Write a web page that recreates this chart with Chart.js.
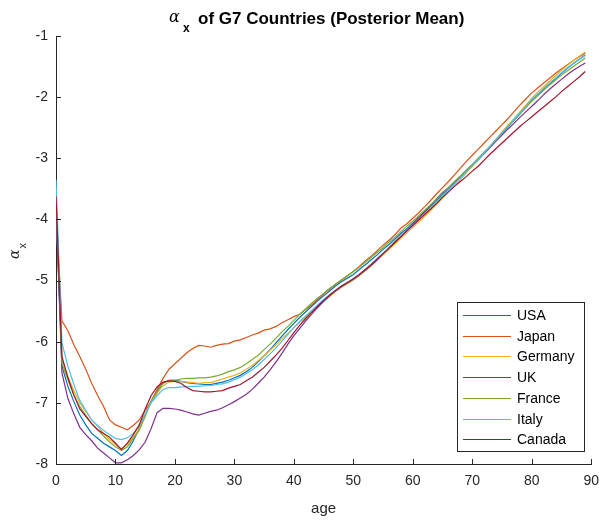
<!DOCTYPE html>
<html>
<head>
<meta charset="utf-8">
<script src="https://cdn.jsdelivr.net/npm/chart.js@4.4.0/dist/chart.umd.min.js"></script>
<style>
  html, body { margin: 0; padding: 0; background: #fff; }
  #wrap { width: 608px; height: 520px; }
</style>
</head>
<body>
<div id="wrap"><canvas id="alfa-grafica" width="608" height="520"></canvas></div>
<script>
(function () {

    // edades 0..89
    const edades = [
        0, 1, 2, 3, 4, 5, 6, 7, 8, 9, 10, 11, 12, 13, 14, 15, 16, 17, 18, 19,
        20, 21, 22, 23, 24, 25, 26, 27, 28, 29, 30, 31, 32, 33, 34, 35, 36, 37, 38, 39,
        40, 41, 42, 43, 44, 45, 46, 47, 48, 49, 50, 51, 52, 53, 54, 55, 56, 57, 58, 59,
        60, 61, 62, 63, 64, 65, 66, 67, 68, 69, 70, 71, 72, 73, 74, 75, 76, 77, 78, 79,
        80, 81, 82, 83, 84, 85, 86, 87, 88, 89
    ];

    const paises = ['USA', 'Japan', 'Germany', 'UK', 'France', 'Italy', 'Canada'];

    const usa = [
        -3.75, -6.40, -6.73, -6.98, -7.20, -7.36, -7.50, -7.58, -7.66, -7.72,
        -7.78, -7.86, -7.78, -7.62, -7.42, -7.20, -6.97, -6.80, -6.68, -6.63,
        -6.63, -6.65, -6.67, -6.68, -6.69, -6.70, -6.70, -6.68, -6.66, -6.63,
        -6.59, -6.55, -6.49, -6.42, -6.33, -6.23, -6.13, -6.02, -5.91, -5.80,
        -5.70, -5.60, -5.51, -5.42, -5.33, -5.25, -5.17, -5.09, -5.02, -4.96,
        -4.90, -4.82, -4.74, -4.66, -4.58, -4.49, -4.41, -4.32, -4.23, -4.15,
        -4.06, -3.97, -3.88, -3.78, -3.69, -3.59, -3.50, -3.41, -3.31, -3.22,
        -3.12, -3.02, -2.92, -2.81, -2.70, -2.60, -2.49, -2.38, -2.27, -2.16,
        -2.05, -1.96, -1.87, -1.78, -1.70, -1.61, -1.53, -1.45, -1.38, -1.31
    ];
    const japan = [
        -3.90, -5.66, -5.82, -6.05, -6.24, -6.45, -6.68, -6.88, -7.06, -7.28,
        -7.36, -7.40, -7.44, -7.37, -7.28, -7.12, -6.98, -6.78, -6.60, -6.45,
        -6.36, -6.27, -6.18, -6.11, -6.06, -6.07, -6.09, -6.06, -6.04, -6.03,
        -5.99, -5.97, -5.93, -5.89, -5.86, -5.81, -5.79, -5.75, -5.69, -5.64,
        -5.59, -5.55, -5.47, -5.40, -5.31, -5.22, -5.14, -5.06, -4.99, -4.92,
        -4.85, -4.77, -4.68, -4.60, -4.51, -4.42, -4.34, -4.25, -4.14, -4.07,
        -3.98, -3.89, -3.79, -3.69, -3.58, -3.48, -3.38, -3.27, -3.16, -3.05,
        -2.95, -2.85, -2.75, -2.65, -2.55, -2.45, -2.35, -2.24, -2.13, -2.03,
        -1.93, -1.85, -1.77, -1.69, -1.61, -1.54, -1.47, -1.40, -1.34, -1.28
    ];
    const germany = [
        -3.80, -6.29, -6.57, -6.80, -7.00, -7.14, -7.28, -7.38, -7.50, -7.60,
        -7.68, -7.76, -7.68, -7.56, -7.42, -7.20, -6.97, -6.84, -6.72, -6.66,
        -6.65, -6.65, -6.66, -6.67, -6.68, -6.67, -6.67, -6.64, -6.61, -6.58,
        -6.55, -6.51, -6.45, -6.39, -6.31, -6.23, -6.14, -6.05, -5.95, -5.86,
        -5.77, -5.68, -5.60, -5.51, -5.42, -5.34, -5.26, -5.18, -5.11, -5.05,
        -4.99, -4.92, -4.84, -4.76, -4.67, -4.58, -4.49, -4.40, -4.31, -4.22,
        -4.13, -4.04, -3.95, -3.85, -3.75, -3.65, -3.55, -3.45, -3.35, -3.24,
        -3.13, -3.02, -2.91, -2.80, -2.69, -2.57, -2.46, -2.35, -2.24, -2.13,
        -2.02, -1.92, -1.83, -1.74, -1.65, -1.56, -1.48, -1.40, -1.33, -1.26
    ];
    const uk = [
        -3.80, -6.51, -6.93, -7.18, -7.40, -7.52, -7.62, -7.74, -7.82, -7.90,
        -7.98, -7.98, -7.93, -7.86, -7.77, -7.64, -7.42, -7.16, -7.09, -7.09,
        -7.10, -7.12, -7.15, -7.18, -7.20, -7.17, -7.14, -7.12, -7.08, -7.03,
        -6.98, -6.92, -6.86, -6.78, -6.68, -6.58, -6.46, -6.33, -6.19, -6.04,
        -5.90, -5.78, -5.66, -5.55, -5.44, -5.34, -5.25, -5.17, -5.10, -5.04,
        -4.98, -4.91, -4.83, -4.75, -4.66, -4.56, -4.47, -4.38, -4.28, -4.17,
        -4.07, -3.97, -3.87, -3.77, -3.66, -3.56, -3.48, -3.39, -3.30, -3.21,
        -3.11, -3.02, -2.92, -2.82, -2.72, -2.62, -2.52, -2.43, -2.33, -2.24,
        -2.15, -2.06, -1.96, -1.87, -1.79, -1.71, -1.63, -1.56, -1.50, -1.44
    ];
    const france = [
        -3.50, -6.35, -6.62, -6.88, -7.06, -7.20, -7.34, -7.44, -7.54, -7.64,
        -7.72, -7.78, -7.72, -7.58, -7.45, -7.22, -6.98, -6.82, -6.68, -6.63,
        -6.63, -6.61, -6.60, -6.60, -6.59, -6.59, -6.58, -6.56, -6.53, -6.49,
        -6.46, -6.42, -6.36, -6.29, -6.22, -6.13, -6.04, -5.94, -5.84, -5.75,
        -5.65, -5.55, -5.46, -5.37, -5.29, -5.21, -5.13, -5.06, -4.99, -4.92,
        -4.85, -4.78, -4.70, -4.62, -4.54, -4.46, -4.37, -4.29, -4.20, -4.11,
        -4.03, -3.94, -3.85, -3.76, -3.67, -3.57, -3.48, -3.38, -3.29, -3.19,
        -3.10, -3.00, -2.90, -2.80, -2.69, -2.59, -2.48, -2.38, -2.28, -2.17,
        -2.07, -1.98, -1.89, -1.80, -1.72, -1.64, -1.57, -1.50, -1.43, -1.36
    ];
    const italy = [
        -3.35, -6.02, -6.40, -6.70, -6.96, -7.12, -7.28, -7.37, -7.45, -7.52,
        -7.58, -7.60, -7.57, -7.50, -7.38, -7.18, -7.00, -6.88, -6.78, -6.75,
        -6.75, -6.74, -6.74, -6.73, -6.73, -6.72, -6.72, -6.70, -6.69, -6.66,
        -6.62, -6.58, -6.52, -6.46, -6.38, -6.29, -6.20, -6.10, -5.99, -5.88,
        -5.77, -5.67, -5.58, -5.49, -5.40, -5.31, -5.23, -5.16, -5.09, -5.03,
        -4.97, -4.90, -4.82, -4.73, -4.64, -4.55, -4.46, -4.36, -4.27, -4.18,
        -4.09, -4.00, -3.91, -3.81, -3.71, -3.62, -3.52, -3.42, -3.32, -3.22,
        -3.12, -3.02, -2.91, -2.80, -2.70, -2.59, -2.48, -2.37, -2.26, -2.15,
        -2.04, -1.95, -1.86, -1.77, -1.69, -1.60, -1.52, -1.45, -1.38, -1.32
    ];
    const canada = [
        -3.62, -6.24, -6.59, -6.87, -7.10, -7.22, -7.34, -7.44, -7.50, -7.56,
        -7.66, -7.76, -7.66, -7.52, -7.36, -7.10, -6.88, -6.74, -6.66, -6.64,
        -6.65, -6.68, -6.75, -6.80, -6.81, -6.82, -6.82, -6.81, -6.80, -6.76,
        -6.73, -6.70, -6.64, -6.58, -6.50, -6.42, -6.32, -6.22, -6.11, -5.98,
        -5.85, -5.73, -5.62, -5.52, -5.42, -5.33, -5.24, -5.16, -5.09, -5.03,
        -4.97, -4.90, -4.82, -4.74, -4.65, -4.56, -4.47, -4.37, -4.28, -4.19,
        -4.10, -4.01, -3.92, -3.83, -3.74, -3.64, -3.55, -3.46, -3.38, -3.30,
        -3.21, -3.13, -3.03, -2.93, -2.84, -2.75, -2.66, -2.57, -2.48, -2.40,
        -2.32, -2.24, -2.16, -2.08, -2.00, -1.91, -1.83, -1.75, -1.67, -1.58
    ];

    const series = [usa, japan, germany, uk, france, italy, canada];
    const colores = ['#0072BD', '#D95319', '#EDB120', '#7E2F8E', '#77AC30', '#4DBEEE', '#A2142F'];

    const marcasX = [0, 10, 20, 30, 40, 50, 60, 70, 80, 90];
    const marcasY = [-8, -7, -6, -5, -4, -3, -2, -1];

    const fuente = '"Liberation Sans", Arial, Helvetica, sans-serif';
    const gris = '#262626';

    // marcas hacia adentro, titulo, etiqueta del eje y, leyenda
    const decoracion = {
        id: 'decoracion',
        afterDatasetsDraw(chart) {
            const { ctx, chartArea: a, scales: { x, y } } = chart;
            ctx.save();
            ctx.strokeStyle = gris;
            ctx.lineWidth = 1;
            ctx.beginPath();
            marcasX.forEach(v => {
                const px = Math.round(x.getPixelForValue(v)) + 0.5;
                ctx.moveTo(px, a.bottom);
                ctx.lineTo(px, a.bottom - 5);
            });
            marcasY.forEach(v => {
                const py = Math.round(y.getPixelForValue(v)) + 0.5;
                ctx.moveTo(a.left, py);
                ctx.lineTo(a.left + 5, py);
            });
            ctx.stroke();
            ctx.restore();
        },
        afterDraw(chart) {
            const { ctx, chartArea: a } = chart;
            ctx.save();
            ctx.fillStyle = '#000';
            ctx.textBaseline = 'alphabetic';

            // titulo
            ctx.textAlign = 'left';
            ctx.font = 'italic 16px "DejaVu Serif", "Liberation Serif", serif';
            ctx.fillText('α', 169, 22);
            ctx.font = 'bold 12px ' + fuente;
            ctx.fillText('x', 183, 32);
            ctx.font = 'bold 17px ' + fuente;
            ctx.fillText('of G7 Countries (Posterior Mean)', 198, 24);

            // eje x
            ctx.fillStyle = gris;
            ctx.textAlign = 'center';
            ctx.font = '15px ' + fuente;
            ctx.fillText('age', (a.left + a.right) / 2, 513);

            // eje y
            ctx.save();
            ctx.translate(19, 259);
            ctx.rotate(-Math.PI / 2);
            ctx.textAlign = 'left';
            ctx.font = 'italic 14px "DejaVu Serif", "Liberation Serif", serif';
            ctx.fillText('α', 0, 0);
            const w = ctx.measureText('α').width;
            ctx.font = '11px ' + fuente;
            ctx.fillText('x', w + 1, 7);
            ctx.restore();

            // leyenda
            const caja = { x: 457.5, y: 302.5, w: 127, h: 149 };
            ctx.fillStyle = '#fff';
            ctx.fillRect(caja.x, caja.y, caja.w, caja.h);
            ctx.strokeStyle = gris;
            ctx.lineWidth = 1;
            ctx.strokeRect(caja.x, caja.y, caja.w, caja.h);
            ctx.font = '14px ' + fuente;
            ctx.textAlign = 'left';
            ctx.textBaseline = 'middle';
            paises.forEach((p, i) => {
                const yy = Math.round(315 + i * 20.7) + 0.5;
                ctx.strokeStyle = colores[i];
                ctx.lineWidth = 1.2;
                ctx.beginPath();
                ctx.moveTo(463, yy);
                ctx.lineTo(511, yy);
                ctx.stroke();
                ctx.fillStyle = '#000';
                ctx.fillText(p, 517, yy + 1);
            });
            ctx.restore();
        }
    };

    const ctx = document.getElementById('alfa-grafica').getContext('2d');

    new Chart(ctx, {
        type: 'line',
        data: {
            datasets: paises.map((p, i) => ({
                label: p,
                data: series[i].map((v, j) => ({ x: edades[j], y: v })),
                borderColor: colores[i],
                backgroundColor: colores[i],
                borderWidth: 1.2,
                pointRadius: 0,
                tension: 0,
                fill: false,
                order: paises.length - i
            }))
        },
        options: {
            responsive: false,
            animation: false,
            layout: { padding: { top: 36, right: 10, left: 0, bottom: 0 } },
            scales: {
                x: {
                    type: 'linear',
                    min: 0,
                    max: 90,
                    afterFit: s => { s.height = 56; },
                    afterBuildTicks: s => { s.ticks = marcasX.map(v => ({ value: v })); },
                    grid: { display: false, drawTicks: false },
                    border: { display: true, color: gris, width: 1 },
                    ticks: { padding: 9, color: gris, font: { size: 14, family: fuente } }
                },
                y: {
                    type: 'linear',
                    min: -8,
                    max: -1,
                    afterFit: s => { s.width = 56; },
                    afterBuildTicks: s => { s.ticks = marcasY.map(v => ({ value: v })); },
                    grid: { display: false, drawTicks: false },
                    border: { display: true, color: gris, width: 1 },
                    ticks: { padding: 8, color: gris, font: { size: 14, family: fuente } }
                }
            },
            plugins: {
                legend: { display: false },
                title: { display: false },
                tooltip: { enabled: false }
            }
        },
        plugins: [decoracion]
    });

})();
</script>
</body>
</html>
